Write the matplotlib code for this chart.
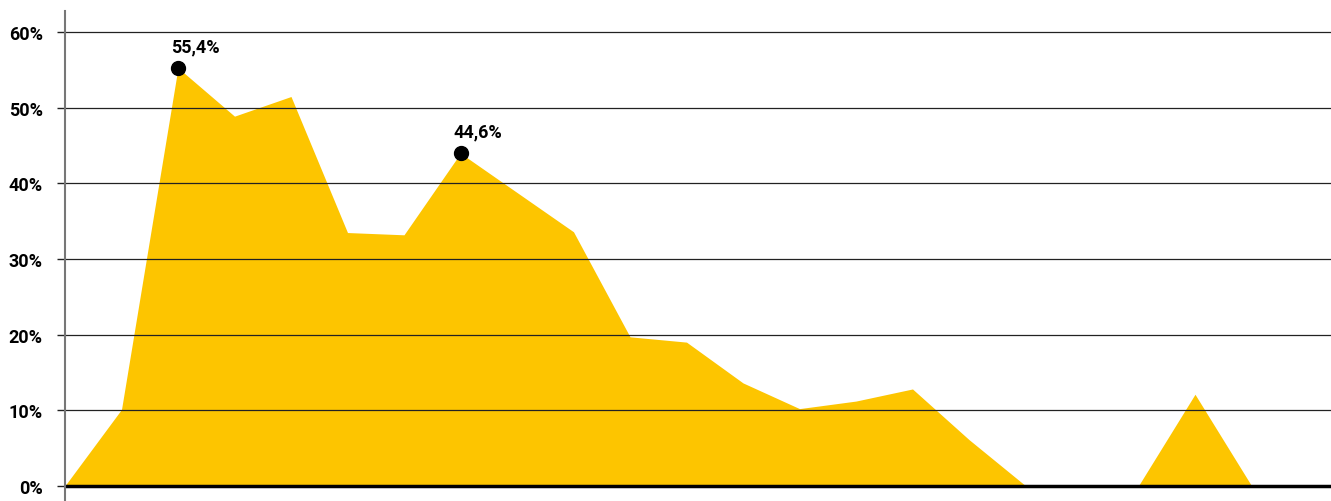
import matplotlib
matplotlib.use("Agg")
import matplotlib.pyplot as plt
import numpy as np

values = [0, 10.1, 55.3, 48.9, 51.5, 33.5, 33.2, 44.0, 38.8, 33.6, 19.7, 19.0,
          13.6, 10.2, 11.2, 12.8, 6.1, 0, 0, 0, 12.1, 0]
labels_idx = [2, 7]
label_texts = ["55,4%", "44,6%"]
yticks = [0, 10, 20, 30, 40, 50, 60]
ytick_labels = ["0%", "10%", "20%", "30%", "40%", "50%", "60%"]

plt.rcParams['font.family'] = ['Roboto', 'DejaVu Sans']
fig = plt.figure(figsize=(13.31, 5.02), dpi=100)
ax = fig.add_axes([65/1331, 0, 1 - 65/1331, 490/502])
x = np.arange(len(values))
ax.fill_between(x, values, 0, color='#FDC500', lw=0, zorder=1)
ax.set_xlim(0, 1266/56.5)
ax.set_ylim(-15.3/7.557, 474.7/7.557)
ax.set_yticks(yticks)
ax.set_yticklabels(ytick_labels, fontsize=13, fontweight='bold')
ax.set_xticks([])
for s in ['top', 'right', 'bottom']:
    ax.spines[s].set_visible(False)
ax.spines['left'].set_color('#777777')
ax.spines['left'].set_linewidth(1.5)
ax.tick_params(axis='y', length=6, width=1, color='#222222', pad=10)
for t in yticks:
    ax.axhline(t, color='black' if t == 0 else '#222222', lw=2.5 if t == 0 else 0.9, zorder=2)
for i, txt in zip(labels_idx, label_texts):
    ax.plot(x[i], values[i], 'o', color='black', ms=10, zorder=3)
    ax.annotate(txt, (x[i], values[i]), xytext=(-5, 9), textcoords='offset points',
                ha='left', va='bottom', fontsize=13, fontweight='bold')
fig.savefig('out.png', dpi=100)
